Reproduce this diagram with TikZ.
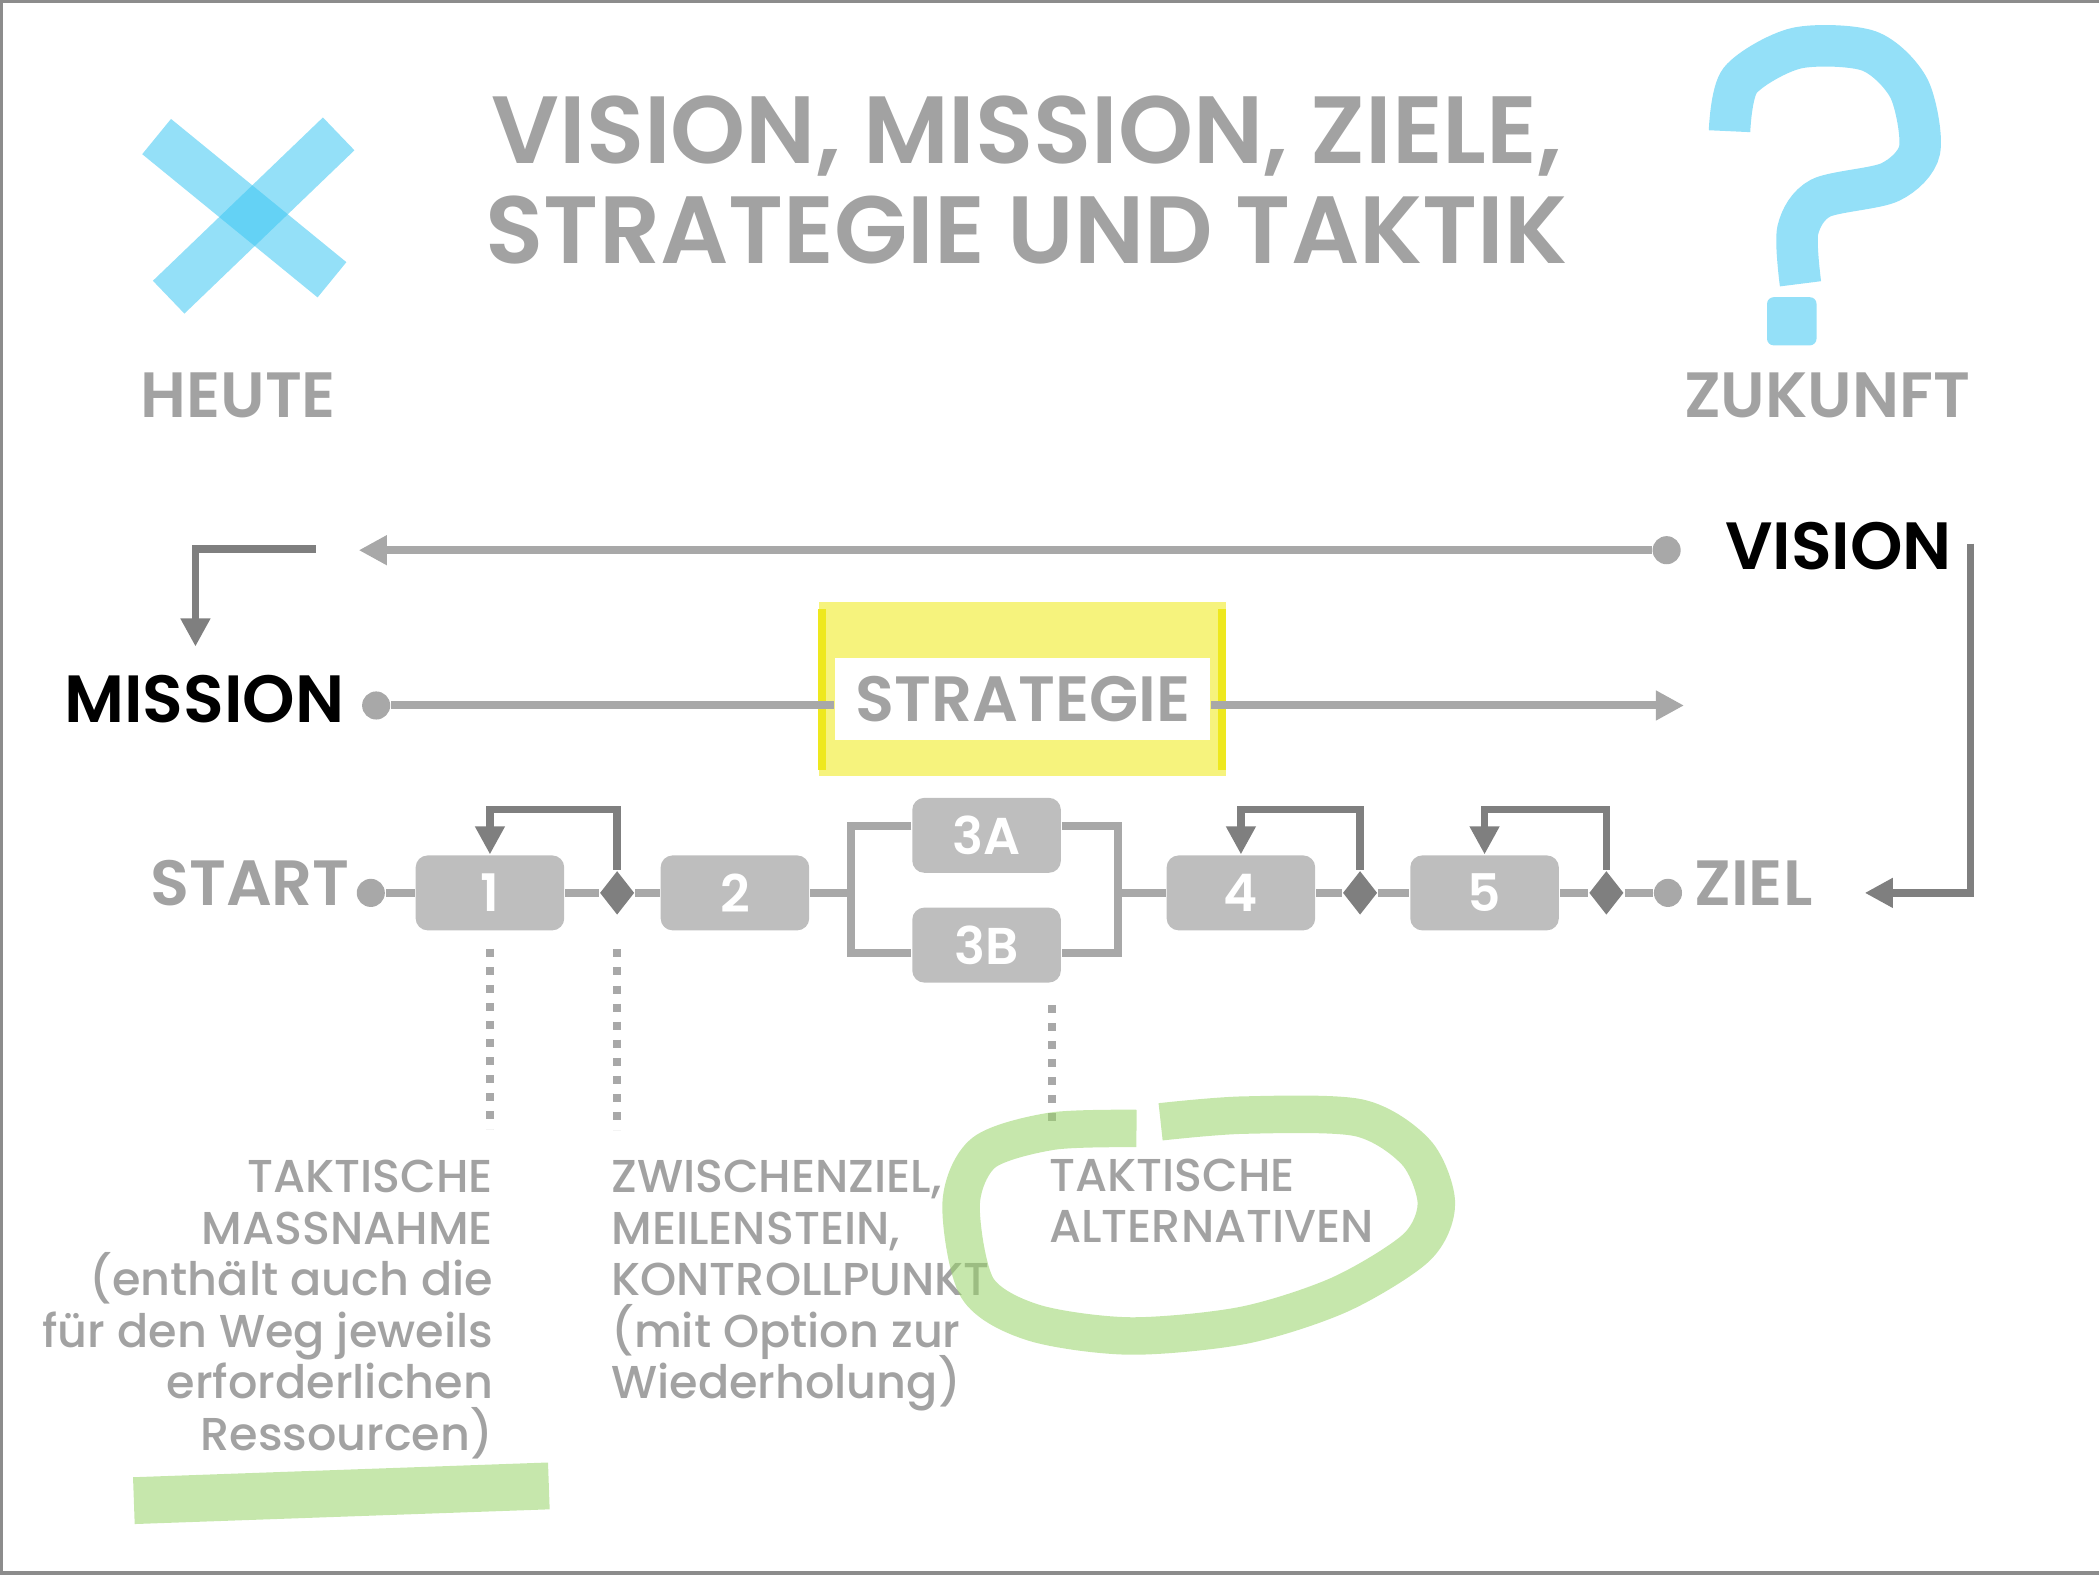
\documentclass[tikz,border=0pt]{standalone}
\usepackage{fontspec}
\setmainfont{Poppins}[BoldFont={Poppins SemiBold}]
\newfontfamily\notefont{Poppins Medium}
\usepackage{xcolor}
\usepackage{tikz}
\usetikzlibrary{arrows.meta,positioning,shapes.geometric}
\definecolor{PlanLine}{HTML}{A8A8A8}
\definecolor{PlanText}{HTML}{A2A2A2}
\definecolor{PlanBox}{HTML}{BEBEBE}
\definecolor{PlanDark}{HTML}{7F7F7F}
\definecolor{PlanFrame}{HTML}{8C8C8C}
\definecolor{InkBlue}{HTML}{3CC6F2}
\definecolor{InkYellow}{HTML}{F5F166}
\definecolor{InkYellowEdge}{HTML}{EEE81E}
\definecolor{InkGreen}{HTML}{98D468}
\newcommand{\fsz}[2]{\fontsize{#1}{#2}\selectfont}
\newcommand{\notesize}{\fsz{9.8}{10.95}\lineskiplimit=-8pt\relax}

\begin{document}
\begin{tikzpicture}[
  x=0.1mm, y=-0.1mm,
  stepbox/.style={fill=PlanBox, rounded corners=0.9mm, minimum width=11.1mm, minimum height=5.6mm, inner sep=0pt, text=white, font=\bfseries\fsz{11}{11}},
  gate/.style={diamond, fill=PlanDark, minimum width=2.6mm, minimum height=3.3mm, inner sep=0pt},
  knob/.style={circle, fill=PlanLine, minimum size=2.1mm, inner sep=0pt},
  conn/.style={line width=0.6mm, draw=PlanLine},
  arr/.style={conn, -{Triangle[length=2.1mm, width=2.1mm]}},
  back/.style={line width=0.55mm, draw=PlanDark, -{Triangle[length=2.1mm, width=2.1mm]}},
  leader/.style={line width=0.6mm, draw=PlanLine, dash pattern=on 0.6mm off 0.75mm},
  heading/.style={text=PlanText, font=\bfseries\fsz{20.3}{21.3}, align=center, inner sep=0pt},
  era/.style={text=PlanText, font=\bfseries\fsz{13.6}{14}, inner sep=0pt},
  big/.style={font=\bfseries\fsz{14.2}{15}, inner sep=0pt},
  tag/.style={text=PlanText, font=\bfseries\fsz{13.6}{14}, inner sep=0pt},
  note/.style={text=PlanText, font=\notefont\notesize, inner sep=0pt},
  blueink/.style={line width=3.4mm, draw=InkBlue, opacity=0.55},
  greenink/.style={line width=2.8mm, draw=InkGreen, opacity=0.55}
]
  \useasboundingbox (0,0) rectangle (1568,1176);
  \draw[PlanFrame, line width=0.25mm] (1568,1) -- (1,1) -- (1,1175) -- (1568,1175);

  % title and the two ends of the way
  \node[heading, anchor=north] (title) at (767,71) {VISION, MISSION, ZIELE,\\STRATEGIE UND TAKTIK};
  \node[era] (heute) at (178,295) {HEUTE};
  \node[era] (zukunft) at (1365,295) {ZUKUNFT};

  % vision and mission
  \node[big, anchor=west] (vision) at (1288,408) {VISION};
  \node[big, anchor=east] (mission) at (258,522) {MISSION};
  \node[knob] (visdot) at (1245,411) {};
  \node[knob] (misdot) at (281,527) {};
  \coordinate (vistip) at (268,411);
  \coordinate (strtip) at (1258,527);
  \coordinate (turn) at (236,410);
  \coordinate (mistip) at (146,483);
  \draw[arr] (visdot) -- (vistip);
  \draw[back] (turn) -| (mistip);

  \fill[InkYellow, opacity=0.85] (612,450) rectangle (916,580);
  \draw[InkYellowEdge, line width=0.6mm] (614,455) -- (614,575);
  \draw[InkYellowEdge, line width=0.6mm] (913,455) -- (913,575);
  \node[tag, fill=white, minimum width=28mm, minimum height=6.1mm] (strategie) at (764,522) {STRATEGIE};
  \draw[conn] (misdot) -- (misdot -| strategie.west);
  \draw[arr] (strategie.east |- strtip) -- (strtip);

  % tactical steps
  \node[tag, anchor=east] (start) at (262,660) {START};
  \node[knob] (startdot) at (277,667) {};
  \node[stepbox] (b1) at (366,667) {1};
  \node[gate] (g1) at (461,667) {};
  \node[stepbox] (b2) at (549,667) {2};
  \node[stepbox] (b3a) at (737,624) {3A};
  \node[stepbox] (b3b) at (737,706) {3B};
  \node[stepbox] (b4) at (927,667) {4};
  \node[gate] (g4) at (1016,667) {};
  \node[stepbox] (b5) at (1109,667) {5};
  \node[gate] (g5) at (1200,667) {};
  \node[knob] (zieldot) at (1246,667) {};
  \node[tag, anchor=west] (ziel) at (1265,660) {ZIEL};
  \coordinate (fork) at (636,667);
  \coordinate (join) at (835,667);

  \draw[conn] (startdot) -- (b1) -- (g1) -- (b2) -- (fork);
  \draw[conn] (b3a.west |- 0,617) -| (fork |- 0,712) -- (b3b.west |- 0,712);
  \draw[conn] (b3a.east |- 0,617) -| (join |- 0,712) -- (b3b.east |- 0,712);
  \draw[conn] (join) -- (b4) -- (g4) -- (b5) -- (g5) -- (zieldot);

  \draw[back] (g1.north) -- ++(0,-45) -| (b1.north);
  \draw[back] (g4.north) -- ++(0,-45) -| (b4.north);
  \draw[back] (g5.north) -- ++(0,-45) -| (b5.north);

  \coordinate (vturn) at (1472,406);
  \coordinate (zieltip) at (1393,667);
  \draw[back] (vturn) |- (zieltip);

  % notes
  \node[note, anchor=north east, align=right] (massnahme) at (369,866) {TAKTISCHE\\MASSNAHME\\(enthält auch die\\für den Weg jeweils\\erforderlichen\\Ressourcen)};
  \node[note, anchor=north west, align=left] (meilenstein) at (456,866) {ZWISCHENZIEL,\\MEILENSTEIN,\\KONTROLLPUNKT\\(mit Option zur\\Wiederholung)};
  \node[note, anchor=north west, align=left] (alternativen) at (783,865) {TAKTISCHE\\ALTERNATIVEN};
  \draw[leader] (b1.south) ++(0,13) -- ++(0,135);
  \draw[leader] (g1.south) ++(0,25) -- ++(0,135);
  \draw[leader] (b3b.south) ++(49,16) -- ++(0,93);

  % marker strokes
  \draw[blueink] (117,102) -- (248,209);
  \draw[blueink] (253,100) -- (126,222);
  \draw[blueink, line width=3.1mm] plot[smooth] coordinates {(1292,98) (1300,60) (1342,36) (1396,38) (1426,66) (1434,112) (1412,136) (1360,148) (1343,172) (1345,212)};
  \fill[InkBlue, opacity=0.55, rounded corners=0.5mm] (1320,222) rectangle (1357,258);
  \draw[greenink, line width=3.5mm] (100,1121) -- (410,1110);
  \draw[greenink] plot[smooth] coordinates {(867,838) (929,833) (1015,835) (1058,861) (1073,899) (1058,932) (1001,967) (929,990) (844,998) (772,988) (730,962) (718,899) (735,861) (786,845) (849,843)};
\end{tikzpicture}
\end{document}
